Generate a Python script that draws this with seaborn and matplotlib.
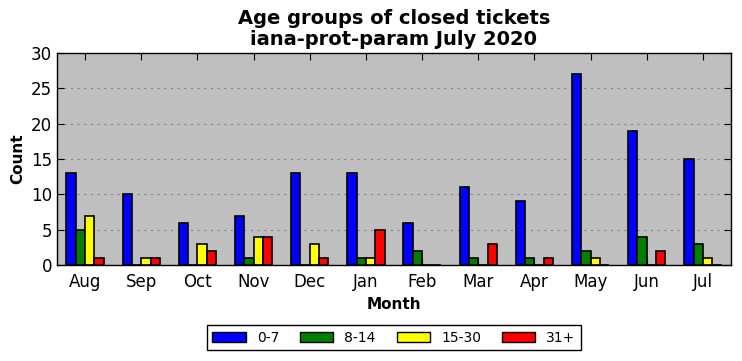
import seaborn as sns
import pandas as pd
import matplotlib.pyplot as plt

months = ['Aug', 'Sep', 'Oct', 'Nov', 'Dec', 'Jan', 'Feb', 'Mar', 'Apr', 'May', 'Jun', 'Jul']
age_groups = ['0-7', '8-14', '15-30', '31+']
days_0_7 = [13, 10, 6, 7, 13, 13, 6, 11, 9, 27, 19, 15]
days_8_14 = [5, 0, 0, 1, 0, 1, 2, 1, 1, 2, 4, 3]
days_15_30 = [7, 1, 3, 4, 3, 1, 0, 0, 0, 1, 0, 1]
days_31_plus = [1, 1, 2, 4, 1, 5, 0, 3, 1, 0, 2, 0]
colors = ['#0000ff', '#008000', '#ffff00', '#ff0000']

df = pd.DataFrame({'Month': months, '0-7': days_0_7, '8-14': days_8_14,
                   '15-30': days_15_30, '31+': days_31_plus})
long_df = pd.melt(df, ['Month'], var_name='Age', value_name='Count')

sns.set_theme(style='ticks', rc={'axes.facecolor': '#bfbfbf',
                                 'xtick.direction': 'in', 'ytick.direction': 'in',
                                 'text.color': 'black', 'axes.labelcolor': 'black'})
plt.rcParams['font.family'] = ['DejaVu Sans']

fig, ax = plt.subplots(figsize=(7.42, 3.61), dpi=100)
sns.barplot(data=long_df, x='Month', y='Count', hue='Age', hue_order=age_groups,
            palette=colors, width=2/3, gap=0, edgecolor='black', linewidth=1.2,
            saturation=1, ax=ax, legend=False)

ax.set_xlim(-0.5, 11.5)
ax.set_ylim(0, 30)
ax.set_yticks([0, 5, 10, 15, 20, 25, 30])
ax.yaxis.grid(True, linestyle=(0, (2, 4)), color='#888888', linewidth=0.8)
ax.set_axisbelow(True)
for s in ax.spines.values():
    s.set_color('black')
    s.set_linewidth(1)
ax.tick_params(axis='both', labelsize=12, colors='black', length=5, width=0.8,
               top=True, right=True)
ax.tick_params(axis='x', pad=6)
ax.set_xlabel('Month', fontsize=11, fontweight='bold', color='black')
ax.set_ylabel('Count', fontsize=11, fontweight='bold', color='black')
ax.set_title('Age groups of closed tickets\niana-prot-param July 2020',
             fontsize=14, fontweight='bold', linespacing=1.1, color='black')

handles = [plt.Rectangle((0, 0), 1, 1, facecolor=c, edgecolor='black') for c in colors]
leg = fig.legend(handles, age_groups, loc='center', bbox_to_anchor=(0.531, 0.064), ncol=4,
                 fontsize=10, frameon=True, fancybox=False, edgecolor='black',
                 facecolor='white', framealpha=1,
                 handlelength=2.4, handleheight=0.7, columnspacing=1.5, borderpad=0.4)
for t in leg.get_texts():
    t.set_color('black')

fig.subplots_adjust(left=57/742, right=731/742, top=1-53/361, bottom=1-265/361)
fig.savefig('out.png', dpi=100)
